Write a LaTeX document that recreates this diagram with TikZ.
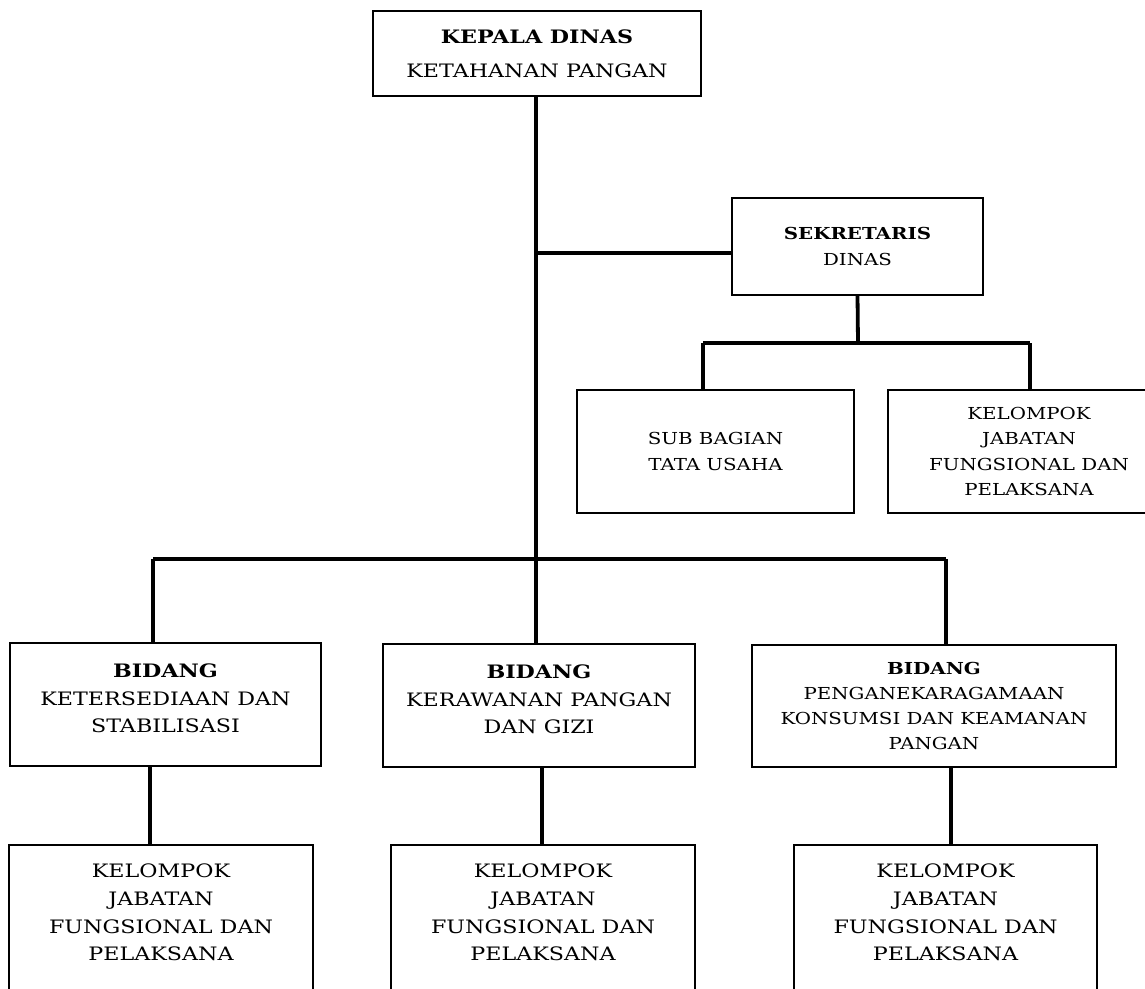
\documentclass[tikz,border=0pt]{standalone}
\usepackage{fontspec}
\setmainfont[FakeStretch=1.2]{DejaVu Serif}
\usetikzlibrary{positioning}

\begin{document}
\begin{tikzpicture}[x=1pt,y=-1pt,
    unit/.style={draw,line width=1.6pt,inner sep=0pt,outer sep=0pt,
      align=center,font=\fontsize{16.5}{25.3}\selectfont},
    wide/.style={font=\fontsize{18.5}{27.7}\selectfont},
    kelbox/.style={unit,wide,anchor=north,inner ysep=19pt,text depth=220pt},
    conn/.style={line width=3.8pt}]
  \useasboundingbox (0,0) rectangle (1145,988);
  \clip (0,0) rectangle (1145,988);

  % top level
  \node[unit,wide,minimum width=328,minimum height=85] (kadis) at (537,53.5)
    {\textbf{KEPALA DINAS}\\[6pt]KETAHANAN PANGAN};
  \node[unit,minimum width=251,minimum height=97] (sekdis) at (857.5,246.5)
    {\textbf{SEKRETARIS}\\DINAS};
  \node[unit,minimum width=277,minimum height=123] (subbag) at (715.5,451.5)
    {SUB BAGIAN\\TATA USAHA};
  \node[unit,minimum width=282,minimum height=123] (kelsek) at (1029,451.5)
    {KELOMPOK\\JABATAN\\FUNGSIONAL DAN\\PELAKSANA};

  % bidang
  \node[unit,wide,minimum width=311,minimum height=123] (bidsedia) at (165.5,704.5)
    {\textbf{BIDANG}\\KETERSEDIAAN DAN\\STABILISASI\\[-15pt]};
  \node[unit,wide,minimum width=312,minimum height=123] (bidrawan) at (539,705.5)
    {\textbf{BIDANG}\\KERAWANAN PANGAN\\DAN GIZI\\[-15pt]};
  \node[unit,minimum width=364,minimum height=122] (bidaneka) at (934,706)
    {\textbf{BIDANG}\\PENGANEKARAGAMAAN\\KONSUMSI DAN KEAMANAN\\PANGAN};

  % kelompok jabatan
  \node[kelbox,minimum width=304] (kelsedia) at (161,845)
    {KELOMPOK\\JABATAN\\FUNGSIONAL DAN\\PELAKSANA};
  \node[kelbox,minimum width=304] (kelrawan) at (543,845)
    {KELOMPOK\\JABATAN\\FUNGSIONAL DAN\\PELAKSANA};
  \node[kelbox,minimum width=303] (kelaneka) at (945.5,845)
    {KELOMPOK\\JABATAN\\FUNGSIONAL DAN\\PELAKSANA};

  % junctions
  \coordinate (jsek) at (536,253);
  \coordinate (jbid) at (536,559);
  \coordinate (jsub) at (858,343);
  \coordinate (jsubl) at (703,343);
  \coordinate (jsubr) at (1030,343);
  \coordinate (jbidl) at (153,559);
  \coordinate (jbidr) at (946,559);

  \begin{scope}[conn]
  \draw (kadis.south -| jsek) -- (jbid);
  \draw (jsek) -- (jsek -| sekdis.west);
  \draw (sekdis.south) -- (jsub);
  \draw (jsubl) -- (jsubr);
  \draw (jsubl) -- (jsubl |- subbag.north);
  \draw (jsubr) -- (jsubr |- kelsek.north);
  \draw (jbidl) -- (jbidr);
  \draw (jbidl) -- (jbidl |- bidsedia.north);
  \draw (jbid) -- (jbid |- bidrawan.north);
  \draw (jbidr) -- (jbidr |- bidaneka.north);
  \draw (150,0 |- bidsedia.south) -- (150,0 |- kelsedia.north);
  \draw (542,0 |- bidrawan.south) -- (542,0 |- kelrawan.north);
  \draw (951,0 |- bidaneka.south) -- (951,0 |- kelaneka.north);
  \end{scope}
\end{tikzpicture}
\end{document}
